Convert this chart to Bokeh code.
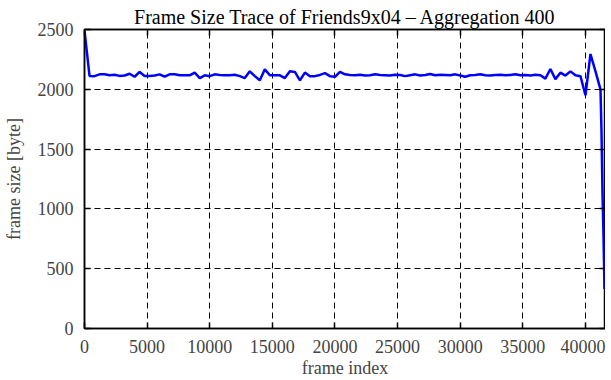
from bokeh.plotting import figure
from bokeh.models import LinearAxis, Range1d, FixedTicker, Title
from bokeh.embed import file_html
from bokeh.resources import INLINE

# frame index (aggregation window 400 frames) and aggregated frame size [byte]
frame_index = [i * 400 for i in range(104)] + [41280, 41360, 41440, 41520]
frame_size = [
    2490, 2112, 2110, 2125, 2125, 2118, 2122, 2112, 2115, 2130,
    2105, 2145, 2112, 2112, 2115, 2125, 2105, 2125, 2125, 2118,
    2118, 2117, 2140, 2094, 2117, 2110, 2125, 2120, 2117, 2117,
    2122, 2110, 2094, 2150, 2110, 2075, 2167, 2117, 2117, 2117,
    2094, 2150, 2145, 2075, 2140, 2110, 2110, 2120, 2135, 2110,
    2105, 2145, 2125, 2120, 2118, 2122, 2115, 2118, 2125, 2120,
    2118, 2115, 2122, 2120, 2110, 2118, 2125, 2115, 2120, 2128,
    2118, 2122, 2120, 2118, 2125, 2115, 2105, 2118, 2120, 2125,
    2118, 2115, 2120, 2122, 2118, 2120, 2125, 2118, 2120, 2115,
    2122, 2117, 2089, 2170, 2085, 2139, 2115, 2150, 2117, 2110,
    1950, 2295, 2150, 2000, 1650, 1130, 780, 330,
]
x_ticks = [0, 5000, 10000, 15000, 20000, 25000, 30000, 35000, 40000]
y_ticks = [0, 500, 1000, 1500, 2000, 2500]

FONT = "Liberation Serif"
FS = "18px"

p = figure(width=605, height=380, output_backend="svg", toolbar_location=None,
           x_range=Range1d(0, 41600), y_range=Range1d(0, 2500),
           min_border_left=73, min_border_right=0, min_border_top=29, min_border_bottom=51)
p.title = Title(text="Frame Size Trace of Friends9x04 \u2013 Aggregation 400",
                align="center", text_font=FONT, text_font_size="20px",
                text_font_style="normal", text_color="black", standoff=4,
                text_line_height=0.9)
p.background_fill_color = "white"
p.border_fill_color = "white"
p.outline_line_color = "black"
p.outline_line_width = 1.5

p.line(frame_index, frame_size, line_color="#0000ff", line_width=2.5)

for ax in [p.xaxis[0], p.yaxis[0]]:
    ax.major_label_text_font = FONT
    ax.major_label_text_font_size = FS
    ax.axis_label_text_font = FONT
    ax.axis_label_text_font_size = FS
    ax.axis_label_text_font_style = "normal"
    ax.major_tick_in = 6
    ax.major_tick_out = 0
    ax.minor_tick_in = 0
    ax.minor_tick_out = 0
    ax.axis_line_width = 1.5
    ax.major_tick_line_width = 1.5

p.xaxis[0].ticker = FixedTicker(ticks=x_ticks)
p.yaxis[0].ticker = FixedTicker(ticks=y_ticks)
p.xaxis[0].axis_label = "frame index"
p.yaxis[0].axis_label = "frame size [byte]"
p.xaxis[0].major_label_standoff = 11
p.xaxis[0].axis_label_standoff = 2
p.xaxis[0].major_label_text_line_height = 0.9
p.xaxis[0].axis_label_text_line_height = 0.9
p.yaxis[0].major_label_standoff = 11
p.yaxis[0].axis_label_standoff = 11

top = LinearAxis(ticker=FixedTicker(ticks=x_ticks), major_label_text_color=None,
                 major_tick_in=6, major_tick_out=0, minor_tick_in=0, minor_tick_out=0,
                 major_label_standoff=-6, axis_line_width=1.5, major_tick_line_width=1.5)
right = LinearAxis(ticker=FixedTicker(ticks=y_ticks), major_label_text_color=None,
                   major_tick_in=6, major_tick_out=0, minor_tick_in=0, minor_tick_out=0,
                   major_label_standoff=-6, axis_line_width=1.5, major_tick_line_width=1.5)
p.add_layout(top, "above")
p.add_layout(right, "right")

p.xgrid.ticker = FixedTicker(ticks=x_ticks)
p.ygrid.ticker = FixedTicker(ticks=y_ticks)
for g in [p.xgrid[0], p.ygrid[0]]:
    g.grid_line_color = "black"
    g.grid_line_dash = "6 4"
    g.grid_line_width = 1

open("out.html", "w").write(file_html(p, INLINE))
